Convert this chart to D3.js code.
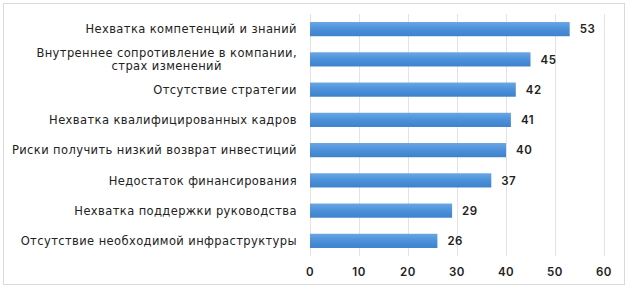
<!DOCTYPE html>
<html>
<head>
<meta charset="utf-8">
<script src="https://cdnjs.cloudflare.com/ajax/libs/d3/7.8.5/d3.min.js"></script>
<style>
  body { margin: 0; background: #fff; }
</style>
</head>
<body>
<div id="chart"></div>
<script>
var categories = [
  ["Нехватка компетенций и знаний"],
  ["Внутреннее сопротивление в компании,", "страх изменений"],
  ["Отсутствие стратегии"],
  ["Нехватка квалифицированных кадров"],
  ["Риски получить низкий возврат инвестиций"],
  ["Недостаток финансирования"],
  ["Нехватка поддержки руководства"],
  ["Отсутствие необходимой инфраструктуры"]
]
var values = [53, 45, 42, 41, 40, 37, 29, 26]
var ticks = [0, 10, 20, 30, 40, 50, 60]

var width = 628, height = 288
var margin = {left: 310, right: 24, top: 14, bottom: 32}

var svg = d3.select("#chart").append("svg")
  .attr("width", width)
  .attr("height", height)

// bar gradient
var grad = svg.append("defs").append("linearGradient")
  .attr("id", "barGrad")
  .attr("x1", 0).attr("y1", 0).attr("x2", 0).attr("y2", 1)
grad.append("stop").attr("offset", "0%").attr("stop-color", "#6aa7e3")
grad.append("stop").attr("offset", "50%").attr("stop-color", "#4b90da")
grad.append("stop").attr("offset", "100%").attr("stop-color", "#3f82cc")

// outer frame
svg.append("rect")
  .attr("x", 3.5).attr("y", 3.5)
  .attr("width", width - 7).attr("height", height - 7)
  .attr("fill", "none")
  .attr("stroke", "#d9d9d9")

var x = d3.scaleLinear()
  .domain([0, 60])
  .range([margin.left, width - margin.right])

var y = d3.scaleBand()
  .domain(d3.range(values.length))
  .range([margin.top, height - margin.bottom])
  .paddingInner(0.53)
  .paddingOuter(0.265)

// gridlines
svg.append("g")
  .selectAll("line")
  .data(ticks)
  .join("line")
    .attr("x1", d => x(d) + 0.5)
    .attr("x2", d => x(d) + 0.5)
    .attr("y1", margin.top)
    .attr("y2", height - margin.bottom)
    .attr("stroke", "#e3e3e3")

// bars
svg.append("g")
  .selectAll("rect")
  .data(values)
  .join("rect")
    .attr("x", x(0))
    .attr("y", (d, i) => y(i))
    .attr("width", d => x(d) - x(0))
    .attr("height", y.bandwidth())
    .attr("fill", "url(#barGrad)")

// value labels
svg.append("g")
  .selectAll("text")
  .data(values)
  .join("text")
    .attr("x", d => x(d) + 10)
    .attr("y", (d, i) => y(i) + y.bandwidth() / 2)
    .attr("dy", "0.36em")
    .attr("font-family", "Inter, Roboto, sans-serif")
    .attr("font-weight", 600)
    .attr("font-size", 11.5)
    .attr("letter-spacing", 0.5)
    .attr("fill", "#222")
    .text(d => d)

// category labels
var lab = svg.append("g")
  .selectAll("text")
  .data(categories)
  .join("text")
    .attr("font-family", "DejaVu Sans, sans-serif")
    .attr("font-size", 11.5)
    .attr("letter-spacing", 0.4)
    .attr("fill", "#222")
    .attr("transform", (d, i) => `translate(297,${y(i) + y.bandwidth() / 2})`)

lab.each(function(d) {
  var t = d3.select(this)
  var first = t.append("tspan")
    .attr("x", 0)
    .attr("text-anchor", "end")
    .attr("y", -(d.length - 1) / 2 * 13)
    .attr("dy", "0.36em")
    .text(d[0])
  if (d.length > 1) {
    var w = first.node().getComputedTextLength()
    t.append("tspan")
      .attr("x", -w / 2)
      .attr("text-anchor", "middle")
      .attr("y", (d.length - 1) / 2 * 13)
      .attr("dy", "0.36em")
      .text(d[1])
  }
})

// x axis tick labels
svg.append("g")
  .selectAll("text")
  .data(ticks)
  .join("text")
    .attr("x", d => x(d))
    .attr("y", 272)
    .attr("dy", "0.36em")
    .attr("text-anchor", "middle")
    .attr("font-family", "Inter, Roboto, sans-serif")
    .attr("font-weight", 600)
    .attr("font-size", 11.5)
    .attr("letter-spacing", 0.5)
    .attr("fill", "#222")
    .text(d => d)
</script>
</body>
</html>
